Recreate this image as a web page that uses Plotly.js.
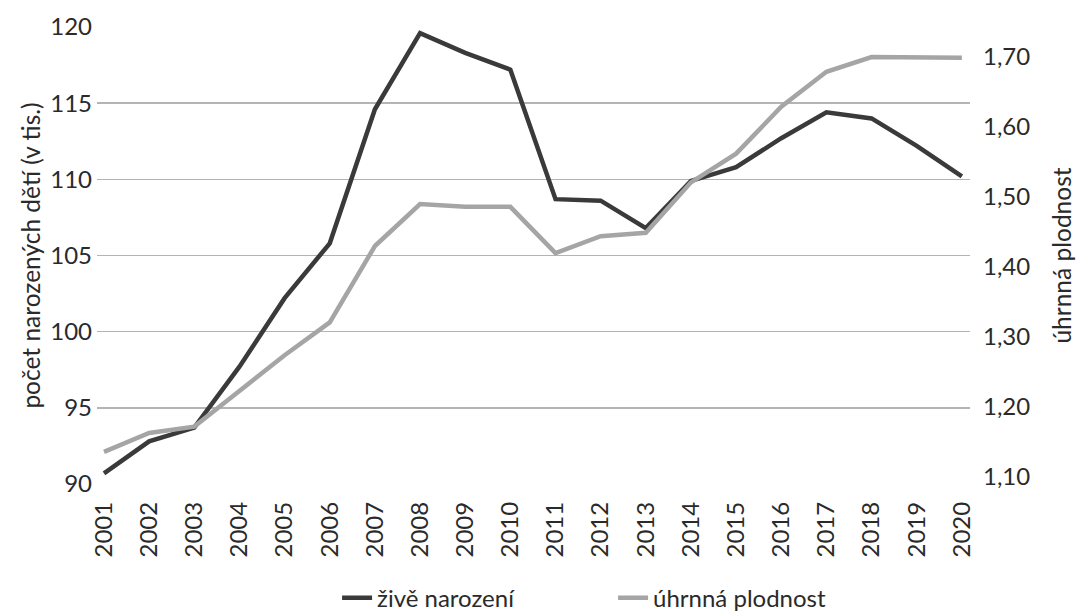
<!DOCTYPE html>
<html>
<head>
<meta charset="utf-8">
<script src="https://cdn.plot.ly/plotly-3.0.1.min.js"></script>
<style>html,body{margin:0;padding:0;background:#fff;}#chart{width:1076px;height:616px;}</style>
</head>
<body>
<div id="chart"></div>
<script>
const years = [2001,2002,2003,2004,2005,2006,2007,2008,2009,2010,2011,2012,2013,2014,2015,2016,2017,2018,2019,2020];
const births = [90.7,92.8,93.7,97.7,102.2,105.8,114.6,119.6,118.3,117.2,108.7,108.6,106.8,109.9,110.8,112.7,114.4,114.0,112.2,110.2];
const fertility = [1.136,1.163,1.172,1.224,1.274,1.321,1.43,1.49,1.486,1.486,1.42,1.444,1.449,1.521,1.562,1.629,1.679,1.70,1.70,1.699];
const leftTicks = [90,95,100,105,110,115,120];
const rightTicks = [1.1,1.2,1.3,1.4,1.5,1.6,1.7];
const leftTitle = 'počet narozených dětí (v tis.)';
const rightTitle = 'úhrnná plodnost';
const nameBirths = 'živě narození';
const nameFert = 'úhrnná plodnost';

const font = 'Lato, "Open Sans", sans-serif';
const txt = '#2a2a2a';
const traces = [
  {x: years, y: births, name: nameBirths, type: 'scatter', mode: 'lines',
   line: {color: '#3a3a3a', width: 4.5}, yaxis: 'y'},
  {x: years, y: fertility, name: nameFert, type: 'scatter', mode: 'lines',
   line: {color: '#a5a5a5', width: 4.5}, yaxis: 'y2'}
];
const layout = {
  width: 1076, height: 616,
  margin: {l: 97, r: 106, t: 27, b: 132, autoexpand: false},
  paper_bgcolor: '#ffffff', plot_bgcolor: '#ffffff',
  separators: ', ',
  font: {family: font, size: 24, color: txt},
  showlegend: true,
  legend: {orientation: 'h', x: 0.275, xanchor: 'left', y: -0.25, yanchor: 'middle',
           font: {size: 24, color: txt}, entrywidth: 231, entrywidthmode: 'pixels'},
  xaxis: {type: 'linear', range: [2000.845, 2020.18], tickvals: years, ticktext: years.map(String),
          tickangle: -90, showgrid: false, zeroline: false, showline: false, ticks: '',
          ticklabelstandoff: 12, automargin: false, tickfont: {size: 24, color: txt}},
  yaxis: {range: [90, 120], tickvals: leftTicks, showgrid: true, gridcolor: '#b4b4b4', gridwidth: 1.5,
          zeroline: false, showline: false, ticks: '', ticklabelstandoff: 4, automargin: false,
          tickfont: {size: 24, color: txt},
          title: {text: leftTitle, font: {size: 24.5, color: txt}, standoff: 2}},
  yaxis2: {overlaying: 'y', side: 'right', range: [1.09, 1.743], tickvals: rightTicks, tickformat: '.2f',
           showgrid: false, zeroline: false, showline: false, ticks: '', ticklabelstandoff: 12, automargin: false,
           tickfont: {size: 24, color: txt},
           title: {text: rightTitle, font: {size: 24.5, color: txt}, standoff: 24}}
};
Plotly.newPlot('chart', traces, layout, {displayModeBar: false, staticPlot: true});
</script>
</body>
</html>
